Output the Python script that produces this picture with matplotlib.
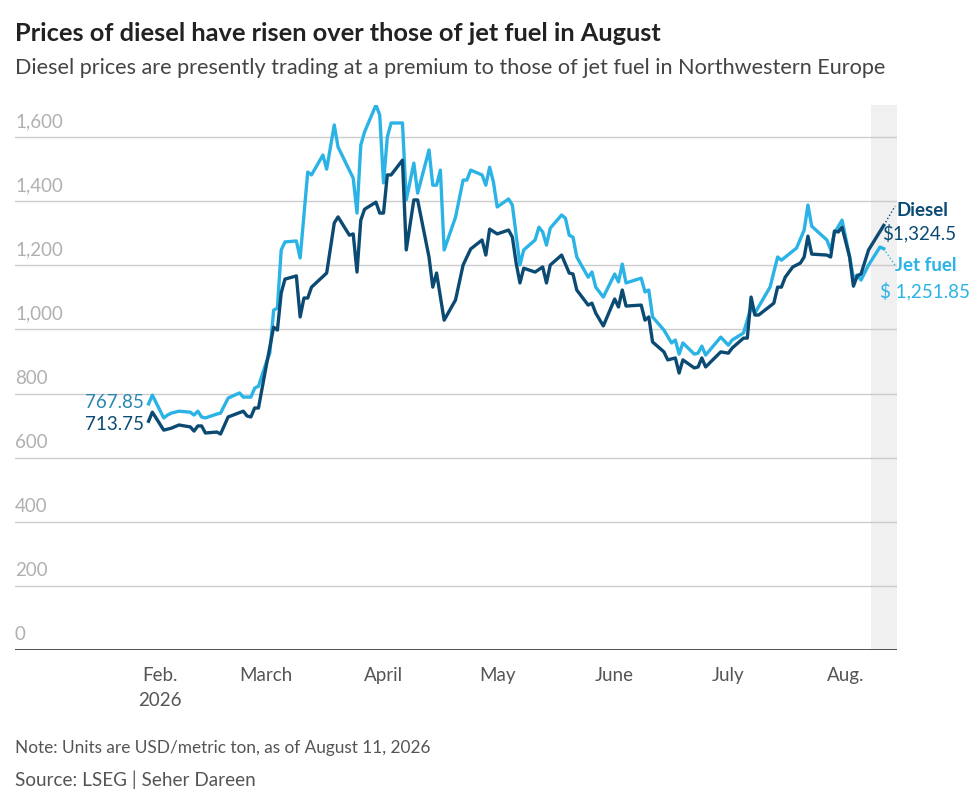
import matplotlib
matplotlib.use("Agg")
import matplotlib.pyplot as plt
import pandas as pd

jet_dates = ["2026-01-29","2026-01-30","2026-02-02","2026-02-03","2026-02-04","2026-02-06","2026-02-09","2026-02-10","2026-02-11","2026-02-12","2026-02-13","2026-02-16","2026-02-17","2026-02-19","2026-02-22","2026-02-23","2026-02-25","2026-02-26","2026-02-27","2026-03-01","2026-03-02","2026-03-03","2026-03-04","2026-03-05","2026-03-06","2026-03-09","2026-03-10","2026-03-12","2026-03-13","2026-03-16","2026-03-17","2026-03-19","2026-03-20","2026-03-24","2026-03-25","2026-03-26","2026-03-27","2026-03-30","2026-03-31","2026-04-01","2026-04-02","2026-04-03","2026-04-06","2026-04-07","2026-04-09","2026-04-10","2026-04-13","2026-04-14","2026-04-15","2026-04-16","2026-04-17","2026-04-20","2026-04-22","2026-04-23","2026-04-24","2026-04-27","2026-04-28","2026-04-29","2026-04-30","2026-05-01","2026-05-04","2026-05-05","2026-05-07","2026-05-08","2026-05-11","2026-05-12","2026-05-13","2026-05-14","2026-05-15","2026-05-18","2026-05-19","2026-05-20","2026-05-21","2026-05-22","2026-05-25","2026-05-26","2026-05-27","2026-05-29","2026-06-01","2026-06-02","2026-06-03","2026-06-04","2026-06-08","2026-06-09","2026-06-10","2026-06-11","2026-06-14","2026-06-16","2026-06-17","2026-06-18","2026-06-19","2026-06-22","2026-06-23","2026-06-24","2026-06-25","2026-06-29","2026-07-01","2026-07-02","2026-07-05","2026-07-07","2026-07-08","2026-07-12","2026-07-14","2026-07-15","2026-07-19","2026-07-21","2026-07-22","2026-07-23","2026-07-27","2026-07-28","2026-07-29","2026-07-31","2026-08-02","2026-08-03","2026-08-04","2026-08-05","2026-08-07","2026-08-10","2026-08-11"]
jet_values = [767.85,795,724,733,739,745,742,733,745,727,724,736,739,786,802,789,789,817,823,895,926,1060,1067,1248,1273,1276,1223,1491,1482,1544,1500,1638,1569,1472,1363,1575,1616,1700,1669,1457,1600,1644,1644,1404,1519,1425,1560,1450,1450,1497,1248,1350,1466,1466,1497,1482,1450,1506,1460,1382,1407,1388,1201,1248,1279,1319,1304,1263,1316,1357,1347,1294,1288,1226,1163,1179,1132,1101,1173,1148,1204,1145,1160,1117,1123,1039,998,958,967,923,958,923,926,948,920,976,951,967,989,1070,1051,1132,1226,1216,1254,1310,1388,1322,1279,1248,1301,1341,1226,1160,1170,1154,1201,1257,1251.85]

diesel_dates = ["2026-01-29","2026-01-30","2026-02-02","2026-02-04","2026-02-06","2026-02-09","2026-02-10","2026-02-11","2026-02-12","2026-02-13","2026-02-16","2026-02-17","2026-02-19","2026-02-23","2026-02-24","2026-02-25","2026-02-26","2026-02-27","2026-03-01","2026-03-03","2026-03-04","2026-03-05","2026-03-06","2026-03-09","2026-03-10","2026-03-11","2026-03-12","2026-03-13","2026-03-17","2026-03-19","2026-03-20","2026-03-23","2026-03-24","2026-03-25","2026-03-26","2026-03-27","2026-03-30","2026-03-31","2026-04-01","2026-04-02","2026-04-03","2026-04-06","2026-04-07","2026-04-09","2026-04-10","2026-04-13","2026-04-14","2026-04-15","2026-04-17","2026-04-20","2026-04-22","2026-04-24","2026-04-27","2026-04-28","2026-04-29","2026-05-01","2026-05-04","2026-05-05","2026-05-06","2026-05-07","2026-05-08","2026-05-11","2026-05-13","2026-05-14","2026-05-15","2026-05-18","2026-05-20","2026-05-21","2026-05-22","2026-05-25","2026-05-26","2026-05-27","2026-05-29","2026-06-01","2026-06-02","2026-06-03","2026-06-04","2026-06-08","2026-06-09","2026-06-10","2026-06-11","2026-06-14","2026-06-15","2026-06-17","2026-06-18","2026-06-19","2026-06-22","2026-06-23","2026-06-24","2026-06-25","2026-06-29","2026-07-01","2026-07-02","2026-07-05","2026-07-06","2026-07-07","2026-07-08","2026-07-09","2026-07-13","2026-07-14","2026-07-15","2026-07-16","2026-07-18","2026-07-20","2026-07-21","2026-07-22","2026-07-23","2026-07-27","2026-07-28","2026-07-29","2026-07-30","2026-07-31","2026-08-02","2026-08-03","2026-08-04","2026-08-05","2026-08-07","2026-08-11"]
diesel_values = [713.75,742,686,692,702,696,683,699,699,677,680,674,727,745,730,727,755,755,883,1007,998,1114,1157,1167,1039,1098,1098,1132,1176,1332,1351,1294,1298,1179,1341,1375,1397,1363,1363,1482,1482,1528,1248,1404,1404,1226,1132,1176,1029,1092,1201,1251,1279,1232,1313,1298,1310,1288,1207,1145,1191,1179,1195,1145,1201,1232,1176,1173,1123,1076,1082,1051,1011,1095,1070,1123,1073,1076,1029,1039,961,930,905,911,864,905,880,883,911,883,930,926,942,973,973,1101,1045,1045,1082,1132,1132,1163,1195,1207,1226,1291,1235,1232,1226,1307,1304,1319,1226,1135,1167,1173,1248,1324.5]

y_ticks = [0, 200, 400, 600, 800, 1000, 1200, 1400, 1600]
x_tick_dates = ["2026-02-01","2026-03-01","2026-04-01","2026-05-01","2026-06-01","2026-07-01","2026-08-01"]
x_tick_labels = ["Feb.\n2026", "March", "April", "May", "June", "July", "Aug."]

DIESEL = "#0b4a73"
JET = "#2bb3e6"
GRAY = "#555555"

plt.rcParams['font.family'] = ['Lato', 'DejaVu Sans']
fig = plt.figure(figsize=(9.8, 8.08), dpi=100)
ax = fig.add_axes([0.0153, 0.1955, 0.9, 0.6745])

jd = pd.to_datetime(jet_dates)
dd = pd.to_datetime(diesel_dates)
ax.plot(jd, jet_values, color=JET, lw=2.4, zorder=3)
ax.plot(dd, diesel_values, color=DIESEL, lw=2.4, zorder=4)

ax.set_xlim(pd.Timestamp("2025-12-24 18:00"), pd.Timestamp("2026-08-14 12:00"))
ax.set_ylim(0, 1700)
ax.axvspan(pd.Timestamp("2026-08-07 18:00"), pd.Timestamp("2026-08-14 12:00"), color="#f0f0f0", zorder=0, lw=0)

for v in y_ticks:
    ax.axhline(v, color="#cccccc" if v else "#333333", lw=1.0 if v else 1.2, zorder=1)
    ax.text(0.0, v + 22, f"{v:,}", transform=ax.get_yaxis_transform(), fontsize=13.5,
            color="#b0b0b0", ha="left", va="bottom")
ax.set_yticks([])
ax.set_xticks(pd.to_datetime(x_tick_dates))
ax.set_xticklabels(x_tick_labels, fontsize=13.5, color=GRAY, linespacing=1.6, va="top")
ax.tick_params(axis="x", length=0, pad=12)
for s in ax.spines.values():
    s.set_visible(False)

ax.text(jd[0] - pd.Timedelta(days=1.3), jet_values[0] + 5, f"{jet_values[0]:,}", color="#2a86b0",
        fontsize=13.5, ha="right", va="center")
ax.text(dd[0] - pd.Timedelta(days=1.3), diesel_values[0] - 10, f"{diesel_values[0]:,}", color=DIESEL,
        fontsize=13.5, ha="right", va="center")

# end labels
ax.plot([dd[-1], dd[-1] + pd.Timedelta(days=3)], [diesel_values[-1], 1385], color=DIESEL, lw=1, ls=":")
ax.plot([jd[-1], jd[-1] + pd.Timedelta(days=3)], [jet_values[-1], 1200], color=JET, lw=1, ls=":")
ax.text(1.0, 1370, "Diesel", transform=ax.get_yaxis_transform(), fontsize=13.5, fontweight="bold",
        color=DIESEL, ha="left", va="center", clip_on=False)
ax.text(0.983, 1300, f"${diesel_values[-1]:,}", transform=ax.get_yaxis_transform(), fontsize=13.5,
        color=DIESEL, ha="left", va="center", clip_on=False)
ax.text(0.998, 1200, "Jet fuel", transform=ax.get_yaxis_transform(), fontsize=13.5, fontweight="bold",
        color=JET, ha="left", va="center", clip_on=False)
ax.text(0.981, 1120, f"$ {jet_values[-1]:,}", transform=ax.get_yaxis_transform(), fontsize=13.5,
        color=JET, ha="left", va="center", clip_on=False)

fig.text(0.0153, 0.959, "Prices of diesel have risen over those of jet fuel in August", fontsize=18.3,
         fontweight="bold", color="#222222", va="center")
fig.text(0.0153, 0.916, "Diesel prices are presently trading at a premium to those of jet fuel in Northwestern Europe",
         fontsize=15.6, color="#444444", va="center")
fig.text(0.0153, 0.074, "Note: Units are USD/metric ton, as of August 11, 2026", fontsize=12.4, color=GRAY, va="center")
fig.text(0.0153, 0.035, "Source: LSEG | Seher Dareen", fontsize=13.6, color=GRAY, va="center")

fig.savefig("out.png", dpi=100, facecolor="white")
